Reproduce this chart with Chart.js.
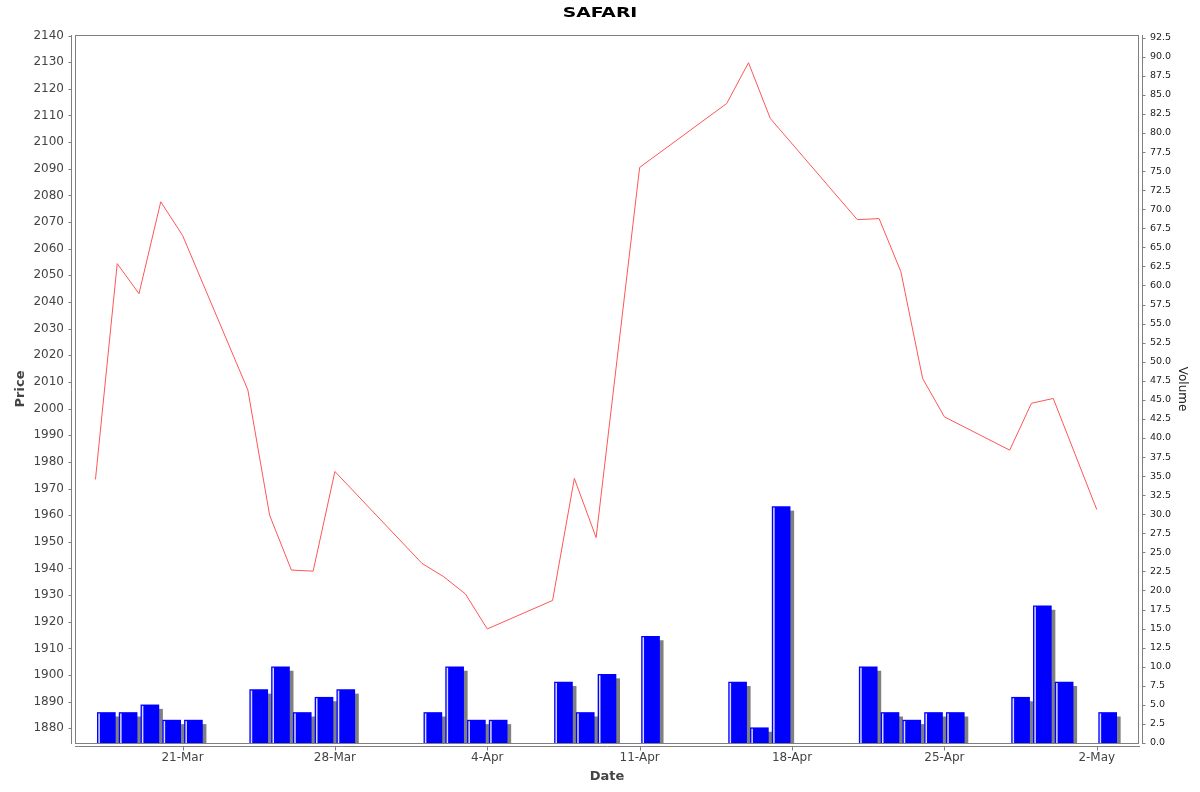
<!DOCTYPE html>
<html>
<head>
<meta charset="utf-8">
<title>SAFARI</title>
<script src="https://cdn.jsdelivr.net/npm/chart.js@4.4.1/dist/chart.umd.min.js"></script>
<style>
  body { margin: 0; background: #fff; }
  canvas { display: block; }
</style>
</head>
<body>
<canvas id="myChart" width="1200" height="792"></canvas>
<script>
// data
const chartTitle = "SAFARI";
const dates = ["17-Mar", "18-Mar", "19-Mar", "20-Mar", "21-Mar", "24-Mar", "25-Mar", "26-Mar", "27-Mar", "28-Mar",
  "1-Apr", "2-Apr", "3-Apr", "4-Apr", "7-Apr", "8-Apr", "9-Apr", "11-Apr", "15-Apr", "16-Apr",
  "17-Apr", "21-Apr", "22-Apr", "23-Apr", "24-Apr", "25-Apr", "28-Apr", "29-Apr", "30-Apr", "2-May"];
const prices = [1973.4, 2054.4, 2043.1, 2077.6, 2065.0, 2007.0, 1960.0, 1939.4, 1939.0, 1976.4,
  1941.9, 1936.9, 1930.4, 1917.3, 1928.0, 1973.8, 1951.6, 2090.5, 2114.5, 2129.8,
  2108.9, 2070.9, 2071.3, 2051.4, 2011.3, 1996.9, 1984.4, 2002.0, 2003.8, 1962.1];
const volumes = [4, 4, 5, 3, 3, 7, 10, 4, 6, 7,
  4, 10, 3, 3, 8, 4, 9, 14, 8, 2,
  31, 10, 4, 3, 4, 4, 6, 18, 8, 4];

const dateTicks = ["21-Mar", "28-Mar", "4-Apr", "11-Apr", "18-Apr", "25-Apr", "2-May"];
const priceTicks = [1880, 1890, 1900, 1910, 1920, 1930, 1940, 1950, 1960, 1970, 1980, 1990, 2000,
  2010, 2020, 2030, 2040, 2050, 2060, 2070, 2080, 2090, 2100, 2110, 2120, 2130, 2140];
const volumeTicks = [0, 2.5, 5, 7.5, 10, 12.5, 15, 17.5, 20, 22.5, 25, 27.5, 30, 32.5, 35, 37.5, 40,
  42.5, 45, 47.5, 50, 52.5, 55, 57.5, 60, 62.5, 65, 67.5, 70, 72.5, 75, 77.5, 80, 82.5, 85, 87.5, 90, 92.5];

const monthIdx = {Jan: 0, Feb: 1, Mar: 2, Apr: 3, May: 4, Jun: 5};
function dayNum(label) {
  let parts = label.split("-");
  return Date.UTC(2014, monthIdx[parts[1]], +parts[0]) / 86400000;
}

let linePoints = dates.map((d, i) => ({x: dayNum(d), y: prices[i]}));
// volume bars cover the whole day, so they sit at noon
let barPoints = dates.map((d, i) => ({x: dayNum(d) + 0.5, y: volumes[i]}));

Chart.defaults.font.family = '"DejaVu Sans", sans-serif';

// title drawn by hand (wide heavy type)
const titlePlugin = {
  id: "bigTitle",
  afterDraw(chart) {
    let c = chart.ctx;
    c.save();
    c.font = 'bold 14px "DejaVu Sans"';
    c.fillStyle = "#000";
    c.textAlign = "center";
    c.textBaseline = "middle";
    c.translate(chart.width / 2, 13);
    c.scale(1.34, 1);
    c.fillText(chartTitle, 0, 0);
    c.restore();
  }
};

// grey shadow behind the bars + light stripe on their left edge
const barLook = {
  id: "barLook",
  beforeDatasetDraw(chart, args) {
    if (args.index !== 1) return;
    let c = chart.ctx, a = chart.chartArea;
    c.save();
    c.beginPath();
    c.rect(a.left, a.top, a.right - a.left, a.bottom - a.top);
    c.clip();
    c.fillStyle = "#808080";
    args.meta.data.forEach((bar) => {
      let p = bar.getProps(["x", "y", "base", "width"], true);
      c.fillRect(p.x - p.width / 2 + 4, p.y + 4, p.width, p.base - p.y - 4);
    });
    c.restore();
  },
  afterDatasetDraw(chart, args) {
    if (args.index !== 1) return;
    let c = chart.ctx;
    c.save();
    c.fillStyle = "#d8d8ff";
    args.meta.data.forEach((bar) => {
      let p = bar.getProps(["x", "y", "base", "width"], true);
      c.fillRect(p.x - p.width / 2 + 1, p.y + 1, 1.5, p.base - p.y - 1);
    });
    c.restore();
  }
};

// plot frame, axis lines offset from the plot, tick marks
const framePlugin = {
  id: "frame",
  afterDraw(chart) {
    let c = chart.ctx, a = chart.chartArea, s = chart.scales;
    c.save();
    c.strokeStyle = "#808080";
    c.lineWidth = 1;
    c.strokeRect(a.left + 0.5, a.top + 0.5, a.right - a.left - 1, a.bottom - a.top);
    let lx = a.left - 3.5, rx = a.right + 3.5, by = a.bottom + 3.5;
    c.beginPath();
    c.moveTo(lx, a.top); c.lineTo(lx, a.bottom + 1);
    c.moveTo(rx, a.top); c.lineTo(rx, a.bottom + 1);
    c.moveTo(a.left, by); c.lineTo(a.right + 1, by);
    s.y.ticks.forEach((t) => {
      let p = Math.round(s.y.getPixelForValue(t.value)) + 0.5;
      c.moveTo(lx, p); c.lineTo(lx - 3, p);
    });
    s.yVol.ticks.forEach((t) => {
      let p = Math.round(s.yVol.getPixelForValue(t.value)) + 0.5;
      c.moveTo(rx, p); c.lineTo(rx + 3, p);
    });
    s.x.ticks.forEach((t) => {
      let p = Math.round(s.x.getPixelForValue(t.value)) + 0.5;
      c.moveTo(p, by); c.lineTo(p, by + 4);
    });
    c.stroke();
    c.restore();
  }
};

const ctx = document.getElementById("myChart");

new Chart(ctx, {
  type: "bar",
  data: {
    datasets: [
      {
        type: "line",
        label: "Price",
        data: linePoints,
        yAxisID: "y",
        borderColor: "rgb(255,85,85)",
        borderWidth: 1,
        pointRadius: 0,
        tension: 0,
        order: 0
      },
      {
        type: "bar",
        label: "Volume",
        data: barPoints,
        yAxisID: "yVol",
        backgroundColor: "#0000ff",
        borderWidth: 0,
        barThickness: 18,
        order: 1
      }
    ]
  },
  plugins: [barLook, framePlugin, titlePlugin],
  options: {
    responsive: false,
    animation: false,
    layout: { padding: { top: 35 } },
    plugins: {
      legend: { display: false },
      tooltip: { enabled: false },
      title: { display: false }
    },
    scales: {
      x: {
        type: "linear",
        position: "bottom",
        offset: false,
        min: dayNum("17-Mar") - 0.94,
        max: dayNum("2-May") + 1.94,
        grid: { display: false, drawTicks: false },
        border: { display: false },
        afterBuildTicks: (scale) => {
          scale.ticks = dateTicks.map((d) => ({value: dayNum(d)}));
        },
        afterFit: (scale) => { scale.height = 49; },
        ticks: {
          autoSkip: false,
          maxRotation: 0,
          padding: 8,
          color: "#444",
          font: { size: 12 },
          callback: (v, i) => dateTicks[i]
        },
        title: {
          display: true,
          text: "Date",
          color: "#444",
          font: { size: 13, weight: "bold" },
          padding: { top: 0, bottom: 8 }
        }
      },
      y: {
        type: "linear",
        position: "left",
        min: 1874.5,
        max: 2140.2,
        grid: { display: false, drawTicks: false },
        border: { display: false },
        afterBuildTicks: (scale) => {
          scale.ticks = priceTicks.map((v) => ({value: v}));
        },
        afterFit: (scale) => { scale.width = 75; },
        ticks: {
          autoSkip: false,
          padding: 11,
          color: "#444",
          font: { size: 12 },
          callback: (v) => String(v)
        },
        title: {
          display: true,
          text: "Price",
          color: "#444",
          font: { size: 13, weight: "bold" },
          padding: { top: 13, bottom: 0 }
        }
      },
      yVol: {
        type: "linear",
        position: "right",
        min: 0,
        max: 92.85,
        grid: { display: false, drawTicks: false },
        border: { display: false },
        afterBuildTicks: (scale) => {
          scale.ticks = volumeTicks.map((v) => ({value: v}));
        },
        afterFit: (scale) => { scale.width = 61; },
        ticks: {
          autoSkip: false,
          padding: 11,
          color: "#222",
          font: { size: 9.5 },
          callback: (v) => v.toFixed(1)
        },
        title: {
          display: true,
          text: "Volume",
          color: "#222",
          font: { size: 12 },
          padding: { top: 11, bottom: 0 }
        }
      }
    }
  }
});
</script>
</body>
</html>
